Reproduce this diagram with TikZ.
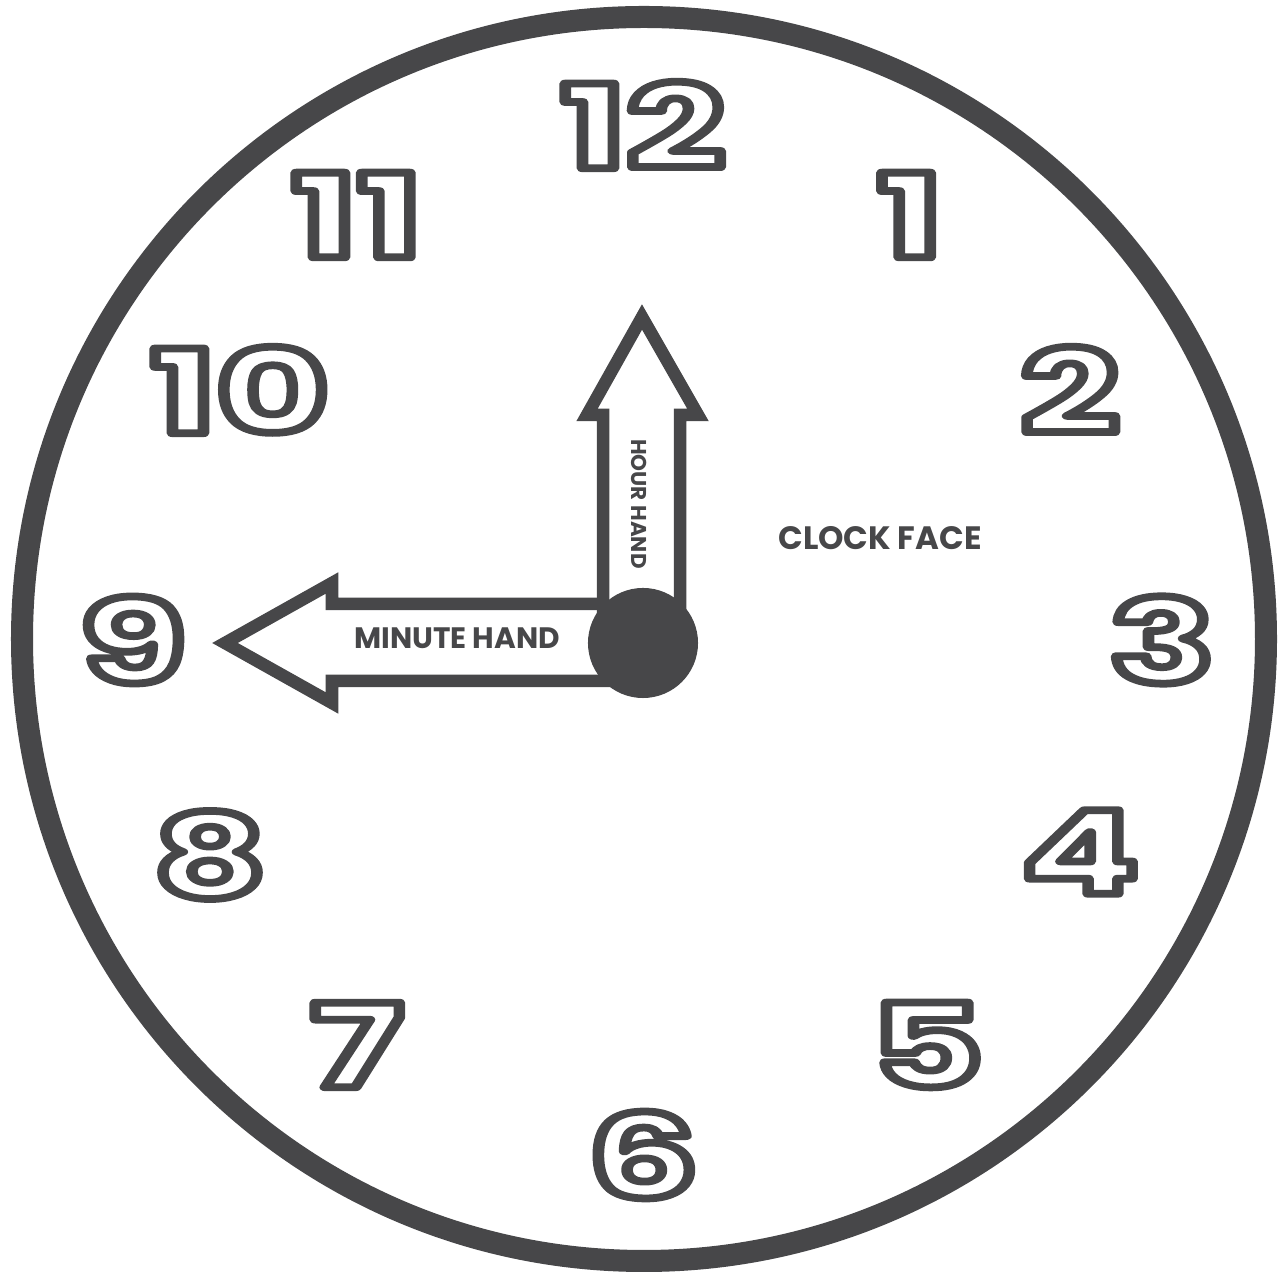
\documentclass[tikz,border=0pt]{standalone}
\usepackage{fontspec}
\setmainfont{Poppins}
\definecolor{clockgray}{RGB}{71,71,73}
% white glyphs with a gray stroke round them
\newcommand\outlined[1]{\special{pdf:literal direct q 1 j 2.2 w 0.278 0.278 0.286 RG 2 Tr}#1\special{pdf:literal direct 0 Tr Q}}
\tikzset{
    rim/.style = {draw=clockgray, line width=0.22cm},
    hand/.style = {draw=clockgray, fill=white, line width=0.125cm, line join=miter},
    numeral/.style = {text=white, font=\fontsize{33}{33}\selectfont\bfseries, xscale=1.5, inner sep=0pt},
    tag/.style = {text=clockgray, font=\fontsize{8.4}{8.4}\selectfont\bfseries, inner sep=0pt}
}

\begin{document}
\begin{tikzpicture}[x=0.01cm, y=-0.01cm]
\useasboundingbox (0,0) rectangle (1284,1274);
% rim of the clock
\draw[rim] (644,639) circle (622);

% numerals
\foreach \num/\px/\py in {12/643/125, 1/910/215, 2/1070/390, 3/1162/640,
    4/1080/852, 5/927/1045, 6/643/1155, 7/357/1045, 8/210/855,
    9/133/640, 10/240/390, 11/357/215}
    \node[numeral] (n\num) at (\px,\py) {\outlined{\num}};

% minute hand
\draw[hand] (640,604) -- (332,604) -- (332,583) -- (225,643) -- (332,703) -- (332,681) -- (640,681);
% hour hand
\draw[hand] (603,640) -- (603,415) -- (587,415) -- (642,317) -- (698,415) -- (680,415) -- (680,640);

% hub
\node[circle, fill=clockgray, minimum size=1.1cm, inner sep=0pt] (hub) at (643,643) {};

% labels
\node[tag] (minute) at (457,638) {MINUTE HAND};
\node[tag, font=\fontsize{6.1}{6.1}\selectfont\bfseries, rotate=-90] (hour) at (639,504) {HOUR HAND};
\node[tag, font=\fontsize{9.2}{9.2}\selectfont\bfseries] (face) at (880,538) {CLOCK FACE};
\end{tikzpicture}
\end{document}
